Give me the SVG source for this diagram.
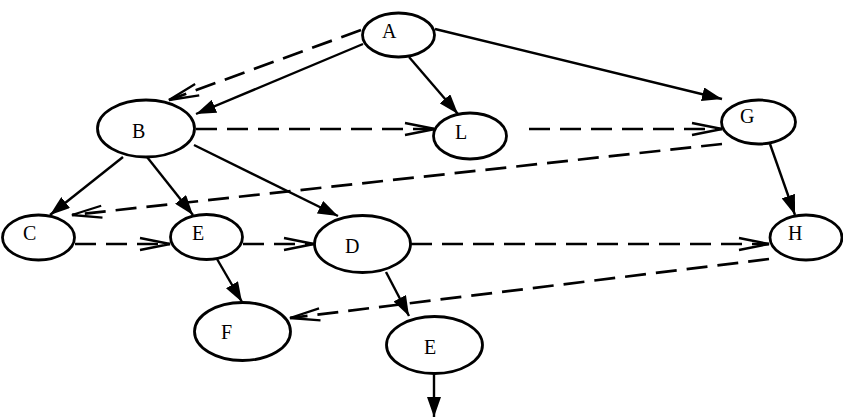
<svg xmlns="http://www.w3.org/2000/svg" width="843" height="418" viewBox="0 0 843 418">
<style>
.node ellipse{fill:#fff;stroke:#000;stroke-width:2.8}
.node text{font-family:"Liberation Serif","Times New Roman",serif;font-size:20px;fill:#000}
.solid{stroke:#000;stroke-width:2.4;fill:none;marker-end:url(#fill)}
.dash{stroke:#000;stroke-width:2.7;fill:none;stroke-dasharray:21 10;marker-end:url(#open)}
</style>
<defs>
<marker id="fill" markerUnits="userSpaceOnUse" viewBox="0 0 20 14" markerWidth="20" markerHeight="14" refX="20" refY="7" orient="auto">
<path d="M0,0 L20,7 L0,14 z" fill="#000"/>
</marker>
<marker id="open" markerUnits="userSpaceOnUse" viewBox="0 0 34 16" markerWidth="34" markerHeight="16" refX="32" refY="8" orient="auto">
<path d="M2,2 L32,8 L2,14" fill="none" stroke="#000" stroke-width="2.3"/>
</marker>
</defs>
<rect width="843" height="418" fill="#fff"/>
<g id="connectors">
<line class="solid" x1="363" y1="44" x2="196" y2="114"/>
<line class="solid" x1="409" y1="57" x2="458" y2="114"/>
<line class="solid" x1="435" y1="29" x2="722" y2="99"/>
<line class="solid" x1="770" y1="144" x2="795" y2="215"/>
<line class="solid" x1="123" y1="157" x2="50" y2="215"/>
<line class="solid" x1="147" y1="157" x2="193" y2="215"/>
<line class="solid" x1="194" y1="145" x2="338" y2="216"/>
<line class="solid" x1="217" y1="259" x2="242" y2="302"/>
<line class="solid" x1="386" y1="272" x2="409" y2="316"/>
<line class="solid" x1="434" y1="374" x2="434" y2="417"/>
<line class="dash" x1="361" y1="30" x2="169" y2="100"/>
<line class="dash" x1="196" y1="129" x2="435" y2="129"/>
<line class="dash" x1="529" y1="129" x2="722" y2="129"/>
<line class="dash" x1="722" y1="144" x2="72" y2="215"/>
<line class="dash" x1="75" y1="244" x2="170" y2="244"/>
<line class="dash" x1="243" y1="244" x2="314" y2="244"/>
<line class="dash" x1="411" y1="244" x2="769" y2="244"/>
<line class="dash" x1="769" y1="259" x2="290" y2="318"/>
</g>
<g id="node-A" class="node"><ellipse cx="398.5" cy="35" rx="36" ry="22"/><text x="382" y="38">A</text></g>
<g id="node-B" class="node"><ellipse cx="146" cy="128.5" rx="48.5" ry="28.5"/><text x="132" y="138">B</text></g>
<g id="node-L" class="node"><ellipse cx="470" cy="136" rx="36.5" ry="23"/><text x="455" y="139">L</text></g>
<g id="node-G" class="node"><ellipse cx="758.5" cy="122" rx="37" ry="22"/><text x="740" y="123">G</text></g>
<g id="node-H" class="node"><ellipse cx="806" cy="237.5" rx="36" ry="22.5"/><text x="788" y="240">H</text></g>
<g id="node-C" class="node"><ellipse cx="38.5" cy="237.5" rx="36" ry="22.5"/><text x="23" y="240">C</text></g>
<g id="node-E1" class="node"><ellipse cx="206.5" cy="237" rx="36" ry="22.5"/><text x="192" y="240">E</text></g>
<g id="node-D" class="node"><ellipse cx="362.5" cy="244" rx="48" ry="28.5"/><text x="345" y="253">D</text></g>
<g id="node-F" class="node"><ellipse cx="242.5" cy="331.5" rx="48" ry="29"/><text x="221" y="339">F</text></g>
<g id="node-E2" class="node"><ellipse cx="434.5" cy="345" rx="48" ry="28.5"/><text x="424" y="354">E</text></g>
</svg>
